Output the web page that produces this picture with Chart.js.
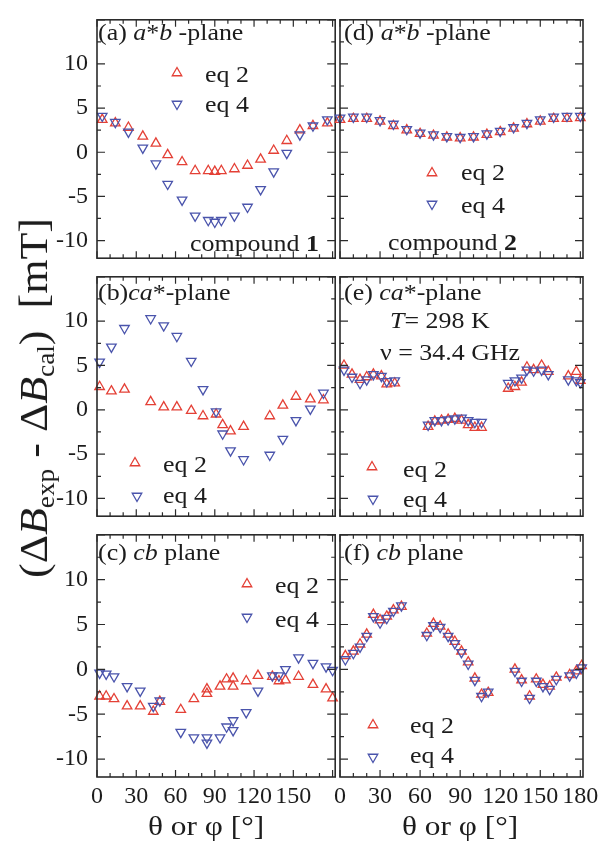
<!DOCTYPE html>
<html>
<head>
<meta charset="utf-8">
<title>Linewidth residuals</title>
<script src="https://cdn.jsdelivr.net/npm/chart.js@4.4.1/dist/chart.umd.min.js"></script>
<style>
  html, body { margin: 0; background: #fff; }
  body {
    width: 606px; height: 841px; position: relative; overflow: hidden;
    font-family: "Liberation Serif", "Times New Roman", serif; color: #1c1c1c;
  }
  canvas { position: absolute; }
  .note { position: absolute; white-space: nowrap; line-height: 1; transform-origin: 0 0; }
  .note sub { font-size: 62%; vertical-align: -0.3em; line-height: 0; }
  #marks { position: absolute; left: 0; top: 0; }
</style>
</head>
<body>
<svg id="marks" width="606" height="841"></svg>
<script>
// (a) compound 1, a*b-plane
const aAngle = [4, 14, 24, 35, 45, 54, 65, 75, 85, 90, 95, 105, 115, 125, 135, 145, 155, 165, 176];
const aEq2 = [3.7, 3.3, 2.8, 1.8, 1.0, -0.3, -1.1, -2.1, -2.1, -2.2, -2.1, -1.9, -1.5, -0.8, 0.2, 1.3, 2.5, 3.0, 3.3];
const aEq4 = [4.1, 3.4, 2.3, 0.5, -1.3, -3.6, -5.4, -7.2, -7.7, -7.9, -7.7, -7.2, -6.2, -4.2, -2.2, -0.1, 2.0, 3.0, 3.7];

// (b) compound 1, ca*-plane
const bAngle = [2, 11, 21, 41, 51, 61, 72, 81, 91, 96, 102, 112, 132, 142, 152, 163, 173];
const bEq2 = [2.6, 2.1, 2.3, 0.9, 0.3, 0.3, -0.1, -0.7, -0.5, -1.7, -2.4, -1.9, -0.7, 0.5, 1.5, 1.2, 1.1];
const bEq4 = [5.4, 7.1, 9.2, 10.3, 9.5, 8.3, 5.5, 2.3, -0.2, -2.7, -4.6, -5.6, -5.1, -3.3, -1.2, 0.1, 1.9];

// (c) compound 1, cb plane
const cAngle = [2, 7, 13, 23, 33, 43, 48, 64, 74, 84, 84, 94, 99, 104, 104, 114, 123, 134, 139, 144, 154, 165, 175, 180];
const cEq2 = [-3.0, -3.0, -3.3, -4.1, -4.1, -4.7, -3.6, -4.5, -3.3, -2.2, -2.7, -1.9, -1.1, -1.0, -1.9, -1.3, -0.7, -0.8, -1.3, -1.2, -0.8, -1.7, -2.2, -3.2];
const cEq4 = [-0.4, -0.5, -0.8, -1.9, -2.4, -4.1, -3.5, -7.0, -7.6, -7.6, -8.2, -7.6, -6.4, -5.7, -6.8, -4.8, -2.4, -0.7, -0.7, 0.0, 1.3, 0.7, 0.3, -0.1];

// (d) compound 2, a*b-plane
const dAngle = [0, 10, 20, 30, 40, 50, 60, 70, 80, 90, 100, 110, 120, 130, 140, 150, 160, 170, 180];
const dEq2 = [3.7, 3.8, 3.8, 3.5, 3.0, 2.5, 2.1, 1.9, 1.7, 1.6, 1.7, 2.0, 2.3, 2.7, 3.2, 3.5, 3.8, 3.8, 3.9];
const dEq4 = [3.9, 4.0, 4.0, 3.6, 3.2, 2.6, 2.2, 2.0, 1.8, 1.7, 1.8, 2.1, 2.4, 2.8, 3.3, 3.7, 4.0, 4.1, 4.1];

// (e) compound 2, ca*-plane
const eAngle = [3, 9, 15, 20, 25, 31, 35, 41, 66, 71, 76, 81, 86, 91, 96, 101, 106, 126, 131, 136, 140, 145, 151, 156, 171, 177, 180];
const eEq2 = [5.0, 4.0, 3.4, 3.7, 4.0, 3.8, 2.9, 3.0, -1.9, -1.3, -1.2, -1.1, -1.0, -1.2, -1.7, -2.0, -2.0, 2.4, 2.6, 3.1, 4.8, 4.5, 5.0, 4.3, 3.8, 4.3, 3.3];
const eEq4 = [4.5, 3.7, 3.0, 3.4, 4.0, 3.8, 3.2, 3.3, -1.7, -1.2, -1.2, -1.1, -1.0, -0.9, -1.2, -1.4, -1.4, 3.0, 3.3, 3.6, 4.5, 4.4, 4.5, 4.0, 3.4, 3.3, 3.1];

// (f) compound 2, cb plane
const fAngle = [4, 10, 15, 20, 25, 30, 35, 40, 46, 65, 70, 75, 81, 86, 91, 96, 101, 106, 111, 131, 136, 142, 147, 152, 157, 162, 172, 177, 181];
const fEq2 = [1.5, 2.0, 2.8, 3.9, 6.1, 5.5, 5.9, 6.6, 7.0, 4.0, 5.1, 4.8, 3.9, 3.1, 2.0, 0.8, -1.0, -2.8, -2.6, 0.0, -1.2, -3.0, -1.1, -1.7, -1.9, -0.9, -0.6, -0.2, 0.4];
const fEq4 = [1.1, 1.8, 2.5, 3.7, 5.9, 5.2, 5.7, 6.5, 7.1, 3.8, 4.9, 4.7, 3.7, 2.9, 1.9, 0.6, -1.2, -3.0, -2.5, -0.2, -1.3, -3.2, -1.3, -1.9, -2.2, -1.1, -0.7, -0.4, 0.2];

const RED = "rgb(228,64,54)";
const BLUE = "rgb(74,84,172)";
const INK = "#2b2b2b";
const TICK_FONT = { family: "Liberation Serif", size: 24 };

// canvas placement so that the plot areas line up like the figure
const colGeo = {
  left: { x: 0, w: 342, yW: 97, padR: 2 },
  right: { x: 320, w: 283, yW: 20, padR: 20 },
};
const rowGeo = {
  top: { y: 13, h: 252, xH: 0, padB: 2 },
  mid: { y: 270, h: 253, xH: 0, padB: 2 },
  bot: { y: 528, h: 290, xH: 36, padB: 5 },
};

const panels = [
  { col: "left", row: "top", angle: aAngle, eq2: aEq2, eq4: aEq4 },
  { col: "left", row: "mid", angle: bAngle, eq2: bEq2, eq4: bEq4 },
  { col: "left", row: "bot", angle: cAngle, eq2: cEq2, eq4: cEq4 },
  { col: "right", row: "top", angle: dAngle, eq2: dEq2, eq4: dEq4 },
  { col: "right", row: "mid", angle: eAngle, eq2: eEq2, eq4: eEq4 },
  { col: "right", row: "bot", angle: fAngle, eq2: fEq2, eq4: fEq4 },
];

// frame + inward ticks on all four sides
const frameTicks = {
  id: "frameTicks",
  afterDatasetsDraw(chart) {
    const { ctx, chartArea: a, scales } = chart;
    const x = scales.x, y = scales.y;
    ctx.save();
    ctx.strokeStyle = INK;
    ctx.lineWidth = 1.2;
    ctx.beginPath();
    x.ticks.forEach((t) => {
      const px = x.getPixelForValue(t.value);
      const len = t.value % 30 === 0 ? 7 : 4;
      ctx.moveTo(px, a.bottom);
      ctx.lineTo(px, a.bottom - len);
      ctx.moveTo(px, a.top);
      ctx.lineTo(px, a.top + len);
    });
    y.ticks.forEach((t) => {
      const py = y.getPixelForValue(t.value);
      const len = t.value % 5 === 0 ? 8 : 4;
      ctx.moveTo(a.left, py);
      ctx.lineTo(a.left + len, py);
      ctx.moveTo(a.right, py);
      ctx.lineTo(a.right - len, py);
    });
    ctx.stroke();
    ctx.lineWidth = 1.6;
    ctx.strokeRect(a.left, a.top, a.right - a.left, a.bottom - a.top);
    ctx.restore();
  },
};

function fixSize(size, horizontal) {
  return (s) => {
    s.paddingLeft = s.paddingRight = s.paddingTop = s.paddingBottom = 0;
    if (horizontal) s.height = size;
    else s.width = size;
  };
}

function series(angle, vals) {
  return angle.map((a, i) => ({ x: a, y: vals[i] }));
}

panels.forEach((p) => {
  const cg = colGeo[p.col];
  const rg = rowGeo[p.row];
  const canvas = document.createElement("canvas");
  canvas.width = cg.w;
  canvas.height = rg.h;
  canvas.style.left = cg.x + "px";
  canvas.style.top = rg.y + "px";
  document.body.appendChild(canvas);

  const showY = p.col === "left";
  const showX = p.row === "bot";

  new Chart(canvas.getContext("2d"), {
    type: "scatter",
    data: {
      datasets: [
        {
          label: "eq 2",
          data: series(p.angle, p.eq2),
          pointStyle: "triangle",
          pointRadius: 5.5,
          pointHoverRadius: 5.5,
          borderWidth: 1.3,
          borderColor: RED,
          backgroundColor: "rgba(0,0,0,0)",
          clip: false,
          order: 1,
        },
        {
          label: "eq 4",
          data: series(p.angle, p.eq4),
          pointStyle: "triangle",
          rotation: 180,
          pointRadius: 5.5,
          pointHoverRadius: 5.5,
          borderWidth: 1.3,
          borderColor: BLUE,
          backgroundColor: "rgba(0,0,0,0)",
          clip: false,
          order: 0,
        },
      ],
    },
    options: {
      responsive: false,
      animation: false,
      devicePixelRatio: 1,
      layout: { padding: { left: 0, top: 2, right: cg.padR, bottom: rg.padB } },
      plugins: { legend: { display: false }, tooltip: { enabled: false } },
      scales: {
        x: {
          type: "linear",
          min: 0,
          max: 182,
          grid: { display: false, drawTicks: false },
          border: { display: false },
          ticks: {
            display: showX,
            stepSize: 10,
            includeBounds: false,
            autoSkip: false,
            maxRotation: 0,
            padding: 5,
            color: "#1c1c1c",
            font: TICK_FONT,
            callback: (v) =>
              v % 30 === 0 && !(p.col === "left" && v === 180) ? String(v) : "",
          },
          afterFit: fixSize(rg.xH, true),
        },
        y: {
          type: "linear",
          min: -12,
          max: 15,
          grid: { display: false, drawTicks: false },
          border: { display: false },
          ticks: {
            display: showY,
            stepSize: 2.5,
            includeBounds: false,
            autoSkip: false,
            padding: 9,
            color: "#1c1c1c",
            font: TICK_FONT,
            callback: (v) => (v % 5 === 0 && v <= 10 ? String(v) : ""),
          },
          afterFit: fixSize(cg.yW, false),
        },
      },
    },
    plugins: [frameTicks],
  });
});

// text annotations
function note(html, left, base, size, stretch) {
  const d = document.createElement("div");
  d.className = "note";
  d.innerHTML = html;
  d.style.left = left + "px";
  d.style.top = base - 0.8375 * size + "px";
  d.style.fontSize = size + "px";
  d.style.transform = "scaleX(" + (stretch || 1.08) + ")";
  document.body.appendChild(d);
}

note("(a) <i>a</i>*<i>b</i> -plane", 98, 40, 24);
note("eq 2", 205, 82, 24);
note("eq 4", 205, 112, 24);
note("compound <b>1</b>", 190, 251, 24);

note("(d) <i>a</i>*<i>b</i> -plane", 344, 40, 24);
note("eq 2", 461, 180, 24);
note("eq 4", 461, 213, 24);
note("compound <b>2</b>", 388, 250, 24);

note("(b)<i>ca</i>*-plane", 98, 300, 24);
note("eq 2", 163, 472, 24);
note("eq 4", 163, 503, 24);

note("(e) <i>ca</i>*-plane", 344, 300, 24);
note("<i>T</i>= 298 K", 390, 328, 24);
note("ν = 34.4 GHz", 380, 360, 24);
note("eq 2", 403, 477, 24);
note("eq 4", 403, 507, 24);

note("(c) <i>cb</i> plane", 98, 560, 24);
note("eq 2", 275, 593, 24);
note("eq 4", 275, 627, 24);

note("(f) <i>cb</i> plane", 344, 560, 24);
note("eq 2", 410, 733, 24);
note("eq 4", 410, 763, 24);

note("θ or φ [°]", 148, 835, 28, 1.12);
note("θ or φ [°]", 402, 835, 28, 1.12);

// rotated y title
const yt = document.createElement("div");
yt.className = "note";
yt.innerHTML = "(Δ<i>B</i><sub>exp</sub> - Δ<i>B</i><sub>cal</sub>)&nbsp; [mT]";
yt.style.fontSize = "40px";
yt.style.left = "34px";
yt.style.top = "398px";
yt.style.transformOrigin = "50% 50%";
yt.style.transform = "translate(-50%,-50%) rotate(-90deg) scaleX(1.1)";
document.body.appendChild(yt);

// legend symbols
const svg = document.getElementById("marks");
function tri(cx, cy, color, down) {
  const r = 5.5, s = r * Math.sin(Math.PI / 3), k = down ? -1 : 1;
  const pts = [
    [cx, cy - k * r],
    [cx + s, cy + k * r / 2],
    [cx - s, cy + k * r / 2],
  ].map((q) => q.join(",")).join(" ");
  const el = document.createElementNS("http://www.w3.org/2000/svg", "polygon");
  el.setAttribute("points", pts);
  el.setAttribute("fill", "none");
  el.setAttribute("stroke", color);
  el.setAttribute("stroke-width", "1.3");
  svg.appendChild(el);
}
tri(177, 73, RED, false); tri(177, 104, BLUE, true);
tri(432, 173, RED, false); tri(432, 204, BLUE, true);
tri(135, 463, RED, false); tri(137, 496, BLUE, true);
tri(372, 467, RED, false); tri(373, 499, BLUE, true);
tri(247, 584, RED, false); tri(247, 617, BLUE, true);
tri(373, 725, RED, false); tri(373, 757, BLUE, true);
</script>
</body>
</html>
